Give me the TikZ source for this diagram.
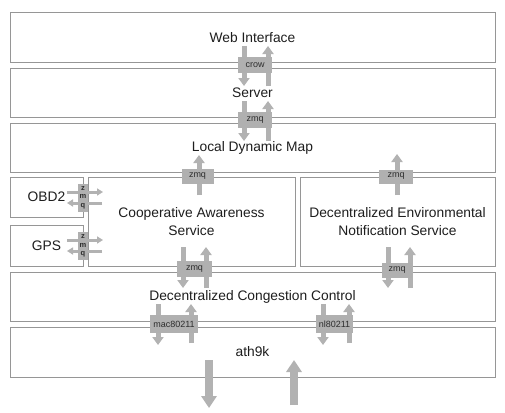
\documentclass[tikz,border=0pt]{standalone}
\usepackage{fontspec}
\setmainfont{Liberation Sans}
\usetikzlibrary{arrows.meta}
\definecolor{boxline}{RGB}{150,150,150}
\definecolor{arrowgray}{RGB}{178,178,178}
\definecolor{labgray}{RGB}{176,176,176}
\definecolor{txt}{RGB}{30,30,30}
\definecolor{labtxt}{RGB}{45,45,45}
\tikzset{
  layer/.style={draw=boxline, line width=1pt, fill=white, inner sep=0pt, text=txt,
    font=\fontsize{13.8}{17.5}\selectfont, align=center},
  pipe/.style={draw=arrowgray, line width=5pt, -{Triangle[width=11pt,length=8pt]}},
  bigpipe/.style={draw=arrowgray, line width=8pt, -{Triangle[width=15pt,length=12pt]}},
  thinpipe/.style={draw=arrowgray, line width=3pt, -{Triangle[width=7pt,length=6pt]}},
  lab/.style={fill=labgray, inner sep=0pt, text=labtxt, font=\fontsize{9}{10}\selectfont},
  vlab/.style={fill=labgray, inner sep=0pt, text=labtxt, align=center,
    font=\fontsize{7.5}{8.5}\selectfont\bfseries}
}
\begin{document}
\begin{tikzpicture}[x=1pt,y=-1pt]
\useasboundingbox (0,0) rectangle (505,412);
\fill[white] (0,0) rectangle (505,412);
% layers
\node[layer, minimum width=485pt, minimum height=49pt] (web) at (252.5,37.5) {Web Interface};
\node[layer, minimum width=485pt, minimum height=49pt] (server) at (252.5,92.5) {Server};
\node[layer, minimum width=485pt, minimum height=49pt] (ldm) at (252.5,147.5) {Local Dynamic Map};
\node[layer, minimum width=73pt, minimum height=40pt] (obd) at (46.5,197) {OBD2};
\node[layer, minimum width=73pt, minimum height=41pt] (gps) at (46.5,245.5) {GPS};
\node[layer, minimum width=207pt, minimum height=89pt] (cas) at (191.5,221.5) {Cooperative Awareness\\Service};
\node[layer, minimum width=195pt, minimum height=89pt] (denm) at (397.5,221.5) {Decentralized Environmental\\Notification Service};
\node[layer, minimum width=485pt, minimum height=49pt] (dcc) at (252.5,296.5) {Decentralized Congestion Control};
\node[layer, minimum width=485pt, minimum height=50pt] (ath) at (252.5,352) {ath9k};
% arrow end points
\coordinate (c1a) at (244,46);  \coordinate (c1b) at (244,86);
\coordinate (c2a) at (268,86);  \coordinate (c2b) at (268,46);
\coordinate (s1a) at (244,101); \coordinate (s1b) at (244,141);
\coordinate (s2a) at (268,141); \coordinate (s2b) at (268,101);
\coordinate (l1a) at (199,195); \coordinate (l1b) at (199,155);
\coordinate (l2a) at (397,195); \coordinate (l2b) at (397,154);
\coordinate (d1a) at (183,247); \coordinate (d1b) at (183,288);
\coordinate (d2a) at (206,288); \coordinate (d2b) at (206,247);
\coordinate (e1a) at (388,247); \coordinate (e1b) at (388,288);
\coordinate (e2a) at (410,288); \coordinate (e2b) at (410,247);
\coordinate (m1a) at (158,304); \coordinate (m1b) at (158,345);
\coordinate (m2a) at (191,343); \coordinate (m2b) at (191,304);
\coordinate (n1a) at (323,304); \coordinate (n1b) at (323,345);
\coordinate (n2a) at (349,343); \coordinate (n2b) at (349,304);
\coordinate (h1a) at (209,360); \coordinate (h1b) at (209,408);
\coordinate (h2a) at (294,405); \coordinate (h2b) at (294,360);
\coordinate (o1a) at (67,192);  \coordinate (o1b) at (103,192);
\coordinate (o2a) at (102,203); \coordinate (o2b) at (67,203);
\coordinate (g1a) at (67,240);  \coordinate (g1b) at (103,240);
\coordinate (g2a) at (102,251); \coordinate (g2b) at (67,251);
% arrows
\draw[pipe] (c1a) -- (c1b);
\draw[pipe] (c2a) -- (c2b);
\draw[pipe] (s1a) -- (s1b);
\draw[pipe] (s2a) -- (s2b);
\draw[pipe] (l1a) -- (l1b);
\draw[pipe] (l2a) -- (l2b);
\draw[pipe] (d1a) -- (d1b);
\draw[pipe] (d2a) -- (d2b);
\draw[pipe] (e1a) -- (e1b);
\draw[pipe] (e2a) -- (e2b);
\draw[pipe] (m1a) -- (m1b);
\draw[pipe] (m2a) -- (m2b);
\draw[pipe] (n1a) -- (n1b);
\draw[pipe] (n2a) -- (n2b);
\draw[bigpipe] (h1a) -- (h1b);
\draw[bigpipe] (h2a) -- (h2b);
\draw[thinpipe] (o1a) -- (o1b);
\draw[thinpipe] (o2a) -- (o2b);
\draw[thinpipe] (g1a) -- (g1b);
\draw[thinpipe] (g2a) -- (g2b);
% interface labels
\node[lab, minimum width=34pt, minimum height=16pt] (crow) at (255,65) {crow};
\node[lab, minimum width=34pt, minimum height=16pt] (zmq1) at (255,120) {zmq};
\node[lab, minimum width=32pt, minimum height=15pt] (zmq2) at (197.5,176) {zmq};
\node[lab, minimum width=34pt, minimum height=14pt] (zmq3) at (396,176.5) {zmq};
\node[lab, minimum width=35pt, minimum height=16pt] (zmq4) at (194.5,269) {zmq};
\node[lab, minimum width=30pt, minimum height=15pt] (zmq5) at (397,270) {zmq};
\node[lab, minimum width=48pt, minimum height=18pt] (mac) at (174,324) {mac80211};
\node[lab, minimum width=37pt, minimum height=18pt] (nl) at (334.5,324) {nl80211};
\node[vlab, minimum width=10pt, minimum height=28pt] (zo) at (83,197.5) {z\\m\\q};
\node[vlab, minimum width=10pt, minimum height=28pt] (zg) at (83,246) {z\\m\\q};
\end{tikzpicture}
\end{document}
